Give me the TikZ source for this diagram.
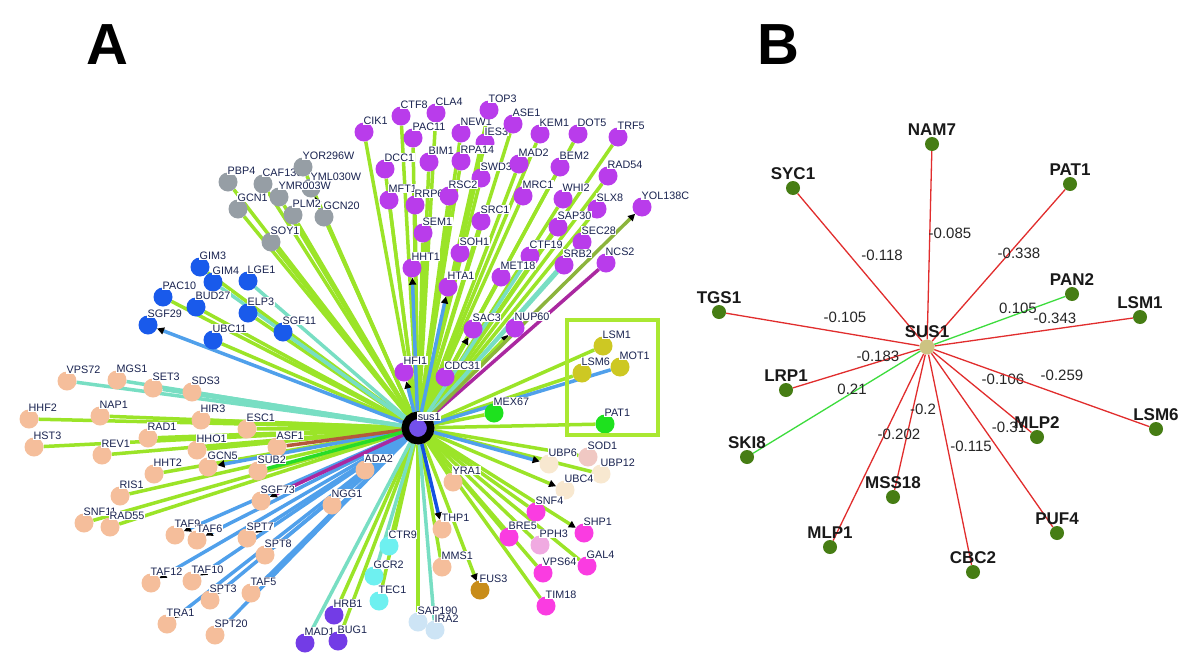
\documentclass[tikz,border=0pt]{standalone}
\usepackage{fontspec}
\setmainfont{Liberation Sans}
\usetikzlibrary{arrows.meta}
\pgfdeclarelayer{bg}
\pgfdeclarelayer{paper}
\pgfsetlayers{paper,bg,main}

% node colours
\definecolor{purp}{RGB}{185,60,235}
\definecolor{grayn}{RGB}{150,158,165}
\definecolor{bluen}{RGB}{25,90,235}
\definecolor{peach}{RGB}{245,190,155}
\definecolor{susc}{RGB}{115,80,235}
\definecolor{greenn}{RGB}{30,225,30}
\definecolor{olive}{RGB}{205,200,35}
\definecolor{cream}{RGB}{248,232,208}
\definecolor{sodc}{RGB}{240,200,195}
\definecolor{pinkn}{RGB}{250,60,225}
\definecolor{pphc}{RGB}{240,170,225}
\definecolor{fusc}{RGB}{200,140,25}
\definecolor{cyann}{RGB}{110,240,240}
\definecolor{violn}{RGB}{115,60,230}
\definecolor{lblue}{RGB}{205,228,245}
\definecolor{lblc}{RGB}{25,35,80}
\definecolor{bnode}{RGB}{70,125,20}
\definecolor{beige}{RGB}{205,195,130}
% link colours
\definecolor{lnGreen}{RGB}{155,228,40}
\definecolor{lnAqua}{RGB}{120,222,195}
\definecolor{lnBlue}{RGB}{80,160,235}
\definecolor{lnDark}{RGB}{20,80,225}
\definecolor{lnMag}{RGB}{170,40,160}
\definecolor{lnBrown}{RGB}{180,90,60}
\definecolor{lnLime}{RGB}{40,220,40}
\definecolor{lnOlive}{RGB}{140,180,60}
\definecolor{boxc}{RGB}{170,232,50}
\definecolor{ered}{RGB}{225,45,45}
\definecolor{egreen}{RGB}{60,220,60}

\begin{document}
\begin{tikzpicture}[x=1pt, y=-1pt,
  gene/.style={circle, minimum size=19pt, inner sep=0pt},
  glbl/.style={font=\fontsize{10.8}{12}\selectfont, text=lblc, fill=white, inner sep=0.6pt, xshift=-8pt},
  lnk/.style={line width=3.5pt},
  tip/.style={-{Triangle[length=7pt, width=7pt, color=black]}},
  bgene/.style={circle, fill=bnode, minimum size=14pt, inner sep=0pt},
  blbl/.style={font=\fontsize{17}{19}\selectfont\bfseries, text=black!90, inner sep=1pt},
  wlbl/.style={font=\fontsize{15}{17}\selectfont, text=black!85, inner sep=0pt},
  rlink/.style={draw=ered, line width=1.3pt},
  glink/.style={draw=egreen, line width=1.3pt}]
\begin{pgfonlayer}{paper}
\fill[white] (0,0) rectangle (1200,664);
\end{pgfonlayer}
\useasboundingbox (0,0) rectangle (1200,664);

% panel letters
\node[font=\fontsize{58}{60}\selectfont\bfseries] (letA) at (107,45) {A};
\node[font=\fontsize{58}{60}\selectfont\bfseries] (letB) at (778,45) {B};

% ---------- panel A ----------
\node[circle, fill=susc, draw=black, line width=7.5pt, minimum size=25.5pt, inner sep=0pt,
  label={[glbl, xshift=-4.7pt, yshift=-4.7pt]above right:sus1}] (sus1) at (418,428) {};

% purple
\foreach \n/\x/\y in {IES3/485/143, CIK1/364/132, CTF8/401/116, CLA4/436/113, PAC11/413/138,
  NEW1/461/133, TOP3/489/110, ASE1/513/124, KEM1/540/134, DOT5/578/134, TRF5/618/137,
  DCC1/385/169, BIM1/429/162, RPA14/461/161, SWD3/481/178, MAD2/519/164, BEM2/560/167,
  RAD54/608/176, MFT1/389/200, RRP6/415/205, RSC2/449/196, MRC1/523/196, WHI2/563/199,
  SLX8/597/209, YOL138C/642/207, SRC1/481/221, SAP30/558/227, SEM1/423/233, SEC28/582/242,
  SOH1/460/253, CTF19/530/256, SRB2/564/265, NCS2/606/263, HHT1/412/268, MET18/501/277,
  HTA1/448/287, SAC3/473/329, NUP60/515/328, HFI1/404/372, CDC31/445/377}
  \node[gene, fill=purp, label={[glbl]above right:\n}] (\n) at (\x,\y) {};

% gray
\foreach \n/\x/\y in {PBP4/228/182, CAF130/263/184, YOR296W/303/167, YML030W/311/188,
  YMR003W/279/197, GCN1/238/209, PLM2/293/215, GCN20/324/217, SOY1/271/242}
  \node[gene, fill=grayn, label={[glbl]above right:\n}] (\n) at (\x,\y) {};

% blue
\foreach \n/\x/\y in {GIM3/200/267, GIM4/213/282, LGE1/248/281, PAC10/163/297, BUD27/196/307,
  ELP3/248/313, SGF11/283/332, SGF29/148/325, UBC11/213/340}
  \node[gene, fill=bluen, label={[glbl]above right:\n}] (\n) at (\x,\y) {};

% peach
\foreach \n/\x/\y in {VPS72/67/381, MGS1/117/380, SET3/153/388, SDS3/192/392, HHF2/29/419,
  NAP1/100/416, HIR3/201/420, ESC1/247/429, HST3/34/447, RAD1/148/438, HHO1/197/450,
  REV1/102/455, ASF1/277/447, GCN5/208/467, HHT2/154/474, SUB2/258/471, ADA2/365/470,
  RIS1/120/496, SGF73/261/501, NGG1/332/505, SNF11/84/523, RAD55/110/527, TAF9/175/535,
  TAF6/197/540, SPT7/247/538, SPT8/265/555, TAF12/151/583, TAF10/192/581, SPT3/210/600,
  TAF5/251/593, TRA1/167/624, SPT20/215/635, YRA1/453/482, THP1/442/529, MMS1/442/567}
  \node[gene, fill=peach, label={[glbl]above right:\n}] (\n) at (\x,\y) {};

% right and bottom groups
\foreach \n/\x/\y/\c in {MEX67/494/413/greenn, PAT1/605/424/greenn, LSM1/603/346/olive,
  LSM6/582/373/olive, MOT1/620/367/olive, SOD1/588/457/sodc, UBP6/549/464/cream,
  UBP12/601/474/cream, UBC4/565/490/cream, SNF4/536/512/pinkn, BRE5/509/537/pinkn,
  SHP1/584/533/pinkn, PPH3/540/545/pphc, GAL4/587/566/pinkn, VPS64/543/573/pinkn,
  TIM18/546/606/pinkn, FUS3/480/590/fusc, CTR9/389/546/cyann, GCR2/374/576/cyann,
  TEC1/379/601/cyann, HRB1/334/615/violn, MAD1/305/643/violn, BUG1/338/641/violn,
  SAP190/418/622/lblue, IRA2/435/630/lblue}
  \node[gene, fill=\c, label={[glbl]above right:\n}] (\n) at (\x,\y) {};

\draw[boxc, line width=4pt] (567,320) rectangle (658,435);

\begin{pgfonlayer}{bg}
\foreach \n in {PBP4, CAF130, YOR296W, YMR003W, GCN1, PLM2, GCN20, SOY1,
  CIK1, CTF8, CLA4, PAC11, NEW1, TOP3, ASE1, IES3, KEM1, DOT5, TRF5, DCC1, BIM1, RPA14,
  SWD3, MAD2, BEM2, RAD54, MFT1, RRP6, RSC2, MRC1, WHI2, SLX8, SRC1, SAP30, SEM1, SOH1,
  MET18, CDC31, PAC10, BUD27, ELP3, UBC11, GIM3, HHF2, NAP1, HIR3, ESC1, HST3, RAD1,
  HHO1, REV1, HHT2, RIS1, SNF11, RAD55, CTR9, TEC1, HRB1, BUG1, SAP190, MMS1, YRA1,
  MEX67, PAT1, LSM1, LSM6, SOD1, UBP12, SNF4, BRE5, PPH3, GAL4, VPS64, TIM18}
  \draw[lnk, lnGreen] (sus1) -- (\n);
\foreach \n in {YML030W, SAC3, NUP60, FUS3, UBC4, SHP1}
  \draw[lnk, lnGreen, tip] (sus1) -- (\n);
\foreach \n in {SEC28, SRB2, CTF19, LGE1, SGF11, GIM4, VPS72, MGS1, SET3, SDS3, GCR2, MAD1, IRA2}
  \draw[lnk, lnAqua] (sus1) -- (\n);
\foreach \n in {ADA2, MOT1}
  \draw[lnk, lnBlue] (sus1) -- (\n);
\foreach \n in {HHT1, HTA1, HFI1, SGF29, GCN5, NGG1, TAF9, TAF6, SPT7, SPT8, TAF12, TAF10,
  SPT3, TAF5, TRA1, SPT20, UBP6}
  \draw[lnk, lnBlue, tip] (sus1) -- (\n);
\draw[lnk, lnDark, tip] (sus1) -- (THP1);
\draw[lnk, lnMag] (sus1) -- (NCS2);
\draw[lnk, lnMag, tip] (sus1) -- (SGF73);
\draw[lnk, lnOlive, tip] (sus1) -- (YOL138C);
\draw[lnk, lnBrown] (sus1) -- (ASF1);
\draw[lnk, lnLime] (sus1) -- (SUB2);
\end{pgfonlayer}

% ---------- panel B ----------
\node[bgene, fill=beige, minimum size=15pt, label={[blbl]above:SUS1}] (bSUS1) at (927,347) {};
\foreach \n/\x/\y in {NAM7/932/144, SYC1/793/188, PAT1/1070/184, TGS1/719/312, PAN2/1072/294,
  LSM1/1140/317, LRP1/786/390, SKI8/747/457, MSS18/893/497, MLP1/830/547, CBC2/973/572,
  PUF4/1057/533, MLP2/1037/437, LSM6/1156/429}
  \node[bgene, label={[blbl]above:\n}] (b\n) at (\x,\y) {};

\begin{pgfonlayer}{bg}
\foreach \n/\s/\lx/\ly/\v in {NAM7/rlink/950/233/-0.085, SYC1/rlink/882/255/-0.118,
  PAT1/rlink/1019/253/-0.338, PAN2/glink/1018/308/0.105, LSM1/rlink/1055/318/-0.343,
  TGS1/rlink/845/317/-0.105, LRP1/rlink/878/356/-0.183, SKI8/glink/852/389/0.21,
  MLP2/rlink/1003/379/-0.106, LSM6/rlink/1062/375/-0.259, MSS18/rlink/923/409/-0.2,
  MLP1/rlink/899/434/-0.202, CBC2/rlink/971/446/-0.115, PUF4/rlink/1009/427/-0.31}
  {\draw[\s] (bSUS1) -- (b\n);
   \node[wlbl] (w\n) at (\lx,\ly) {\v};}
\end{pgfonlayer}
\end{tikzpicture}
\end{document}
